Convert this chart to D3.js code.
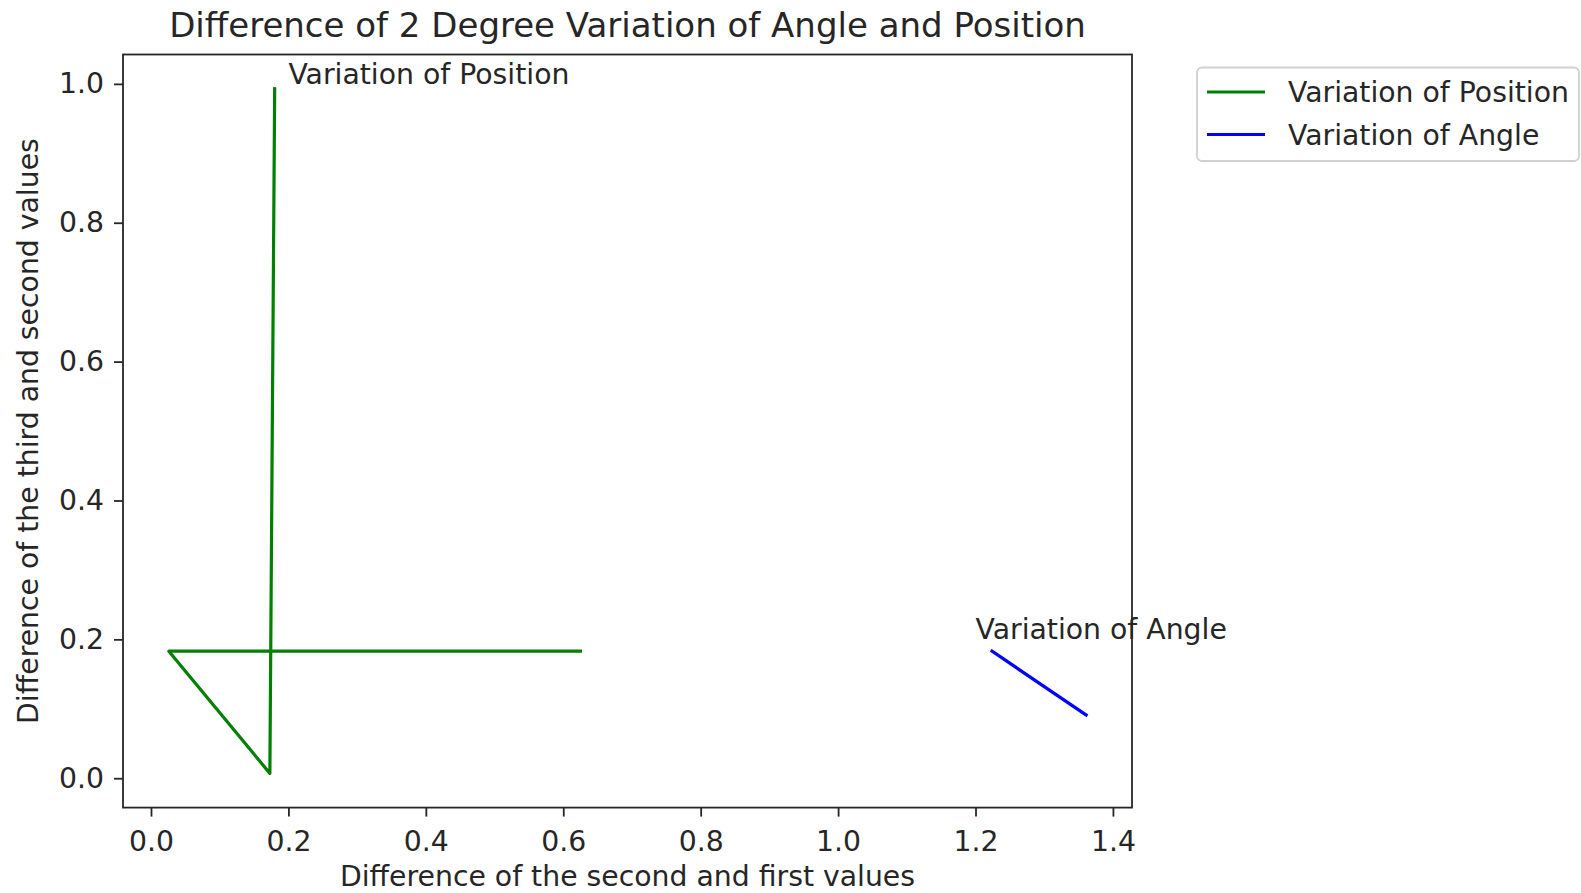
<!doctype html>
<html lang="en">
<head>
  <meta charset="utf-8">
  <title>Difference of 2 Degree Variation</title>
  <style>
    * { margin: 0; padding: 0; box-sizing: border-box; }
    body { background: #fff; }
    svg text { font-family: "DejaVu Sans", sans-serif; fill: #262626; }
  </style>
</head>
<body>
  <div id="container"></div>
  <script src="https://cdn.jsdelivr.net/npm/d3@7"></script>
  <script>
    // values
    const positionX = [0.180, 0.173, 0.026, 0.625];
    const positionY = [0.993, 0.007, 0.183, 0.183];
    const angleX = [1.224, 1.361];
    const angleY = [0.183, 0.091];

    const xTicks = [0.0, 0.2, 0.4, 0.6, 0.8, 1.0, 1.2, 1.4];
    const yTicks = [0.0, 0.2, 0.4, 0.6, 0.8, 1.0];

    const seriesNames = ['Variation of Position', 'Variation of Angle'];
    const seriesColors = ['green', 'blue'];

    const titleText = 'Difference of 2 Degree Variation of Angle and Position';
    const xLabel = 'Difference of the second and first values';
    const yLabel = 'Difference of the third and second values';

    const W = 1581, H = 893;
    const plot = {left: 123, right: 1132, top: 54.5, bottom: 807.6};

    const series = [
      positionX.map((x, i) => [x, positionY[i]]),
      angleX.map((x, i) => [x, angleY[i]])
    ];

    // matplotlib style 5% margins
    const pad = ([a, b]) => { const r = b - a; return [a - 0.05 * r, b + 0.05 * r]; };
    const xExt = pad(d3.extent(positionX.concat(angleX)));
    const yExt = pad(d3.extent(positionY.concat(angleY)));

    const x = d3.scaleLinear().domain(xExt).range([plot.left, plot.right]);
    const y = d3.scaleLinear().domain(yExt).range([plot.bottom, plot.top]);

    const svg = d3.select('#container').append('svg')
      .attr('width', W)
      .attr('height', H);

    const fs = 28.3;

    // axes
    const xAxis = svg.append('g')
      .attr('transform', `translate(0,${plot.bottom})`)
      .call(d3.axisBottom(x).tickValues(xTicks).tickFormat(d3.format('.1f')).tickSize(9).tickPadding(14));
    const yAxis = svg.append('g')
      .attr('transform', `translate(${plot.left},0)`)
      .call(d3.axisLeft(y).tickValues(yTicks).tickFormat(d3.format('.1f')).tickSize(9).tickPadding(10));

    [xAxis, yAxis].forEach(g => {
      g.select('.domain').remove();
      g.selectAll('.tick line').attr('stroke', '#262626').attr('stroke-width', 1.8);
      g.selectAll('.tick text').style('font-size', fs + 'px').style('font-family', '"DejaVu Sans", sans-serif').attr('fill', '#262626');
    });

    // lines
    const line = d3.line().x(d => x(d[0])).y(d => y(d[1]));
    svg.append('g').selectAll('path')
      .data(series)
      .enter().append('path')
      .attr('d', line)
      .attr('fill', 'none')
      .attr('stroke', (d, i) => seriesColors[i])
      .attr('stroke-width', 3.2)
      .attr('stroke-linejoin', 'round')
      .attr('stroke-linecap', 'square');

    // frame
    svg.append('rect')
      .attr('x', plot.left)
      .attr('y', plot.top)
      .attr('width', plot.right - plot.left)
      .attr('height', plot.bottom - plot.top)
      .attr('fill', 'none')
      .attr('stroke', '#262626')
      .attr('stroke-width', 1.8);

    // annotations
    svg.append('text')
      .attr('x', x(0.2)).attr('y', y(1.0))
      .style('font-size', fs + 'px')
      .text(seriesNames[0]);
    svg.append('text')
      .attr('x', x(1.2)).attr('y', y(0.2))
      .style('font-size', fs + 'px')
      .text(seriesNames[1]);

    // title and labels
    const cx = (plot.left + plot.right) / 2;
    svg.append('text')
      .attr('x', cx).attr('y', 37)
      .attr('text-anchor', 'middle')
      .style('font-size', '34px')
      .text(titleText);
    svg.append('text')
      .attr('x', cx).attr('y', 886)
      .attr('text-anchor', 'middle')
      .style('font-size', fs + 'px')
      .text(xLabel);
    svg.append('text')
      .attr('transform', `translate(38,${(plot.top + plot.bottom) / 2}) rotate(-90)`)
      .attr('text-anchor', 'middle')
      .style('font-size', fs + 'px')
      .text(yLabel);

    // legend
    const lg = svg.append('g').attr('transform', 'translate(1197,67.5)');
    lg.append('rect')
      .attr('width', 382).attr('height', 93.5)
      .attr('rx', 5)
      .attr('fill', '#fff')
      .attr('stroke', '#d0d0d0')
      .attr('stroke-width', 1.8);
    const items = lg.selectAll('g.item')
      .data(seriesNames)
      .enter().append('g')
      .attr('class', 'item')
      .attr('transform', (d, i) => `translate(0,${24.5 + i * 42.5})`);
    items.append('line')
      .attr('x1', 10).attr('x2', 68)
      .attr('stroke', (d, i) => seriesColors[i])
      .attr('stroke-width', 3.2);
    items.append('text')
      .attr('x', 91).attr('y', 10)
      .style('font-size', fs + 'px')
      .text(d => d);
  </script>
</body>
</html>
